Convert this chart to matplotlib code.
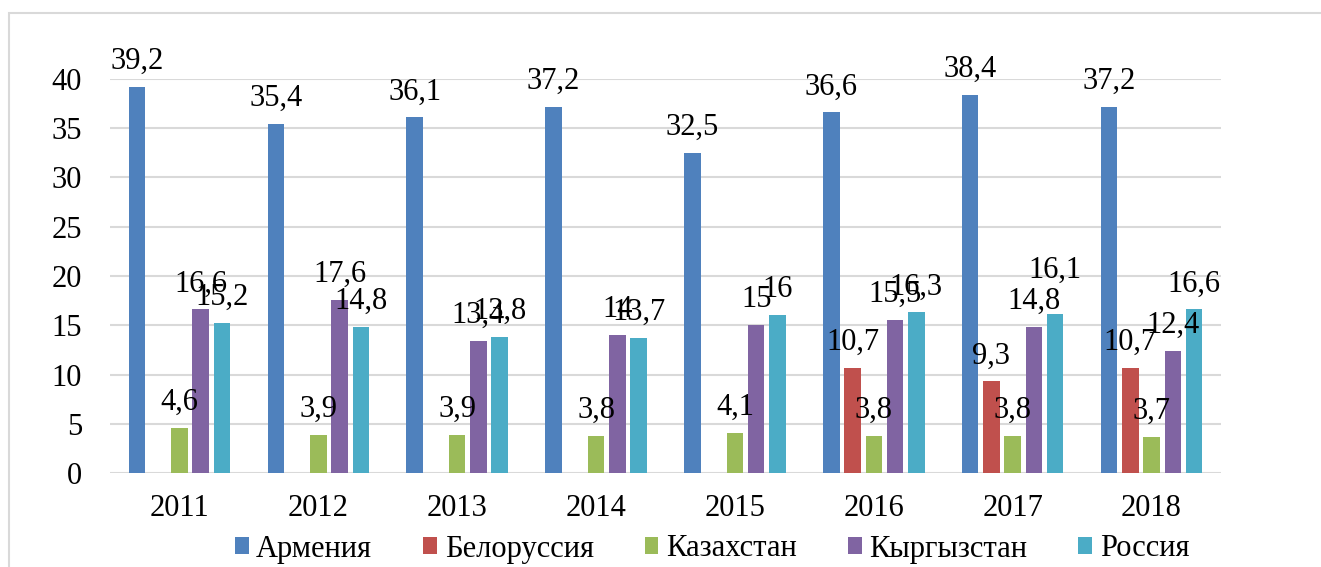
import numpy as np
import matplotlib.pyplot as plt
from matplotlib.patches import Rectangle

plt.rcParams['font.family'] = ['Liberation Serif', 'DejaVu Serif']

years = ['2011', '2012', '2013', '2014', '2015', '2016', '2017', '2018']
armenia = [39.2, 35.4, 36.1, 37.2, 32.5, 36.6, 38.4, 37.2]
belarus = [np.nan, np.nan, np.nan, np.nan, np.nan, 10.7, 9.3, 10.7]
kazakhstan = [4.6, 3.9, 3.9, 3.8, 4.1, 3.8, 3.8, 3.7]
kyrgyzstan = [16.6, 17.6, 13.4, 14, 15, 15.5, 14.8, 12.4]
russia = [15.2, 14.8, 13.8, 13.7, 16, 16.3, 16.1, 16.6]

names = ['Армения', 'Белоруссия', 'Казахстан', 'Кыргызстан', 'Россия']
series = [armenia, belarus, kazakhstan, kyrgyzstan, russia]
colors = ['#4F81BD', '#C0504D', '#9BBB59', '#8064A2', '#4BACC6']

fig = plt.figure(figsize=(13.21, 5.67), dpi=100)
fig.patches.append(Rectangle((9/1321, -0.1), 1.2, 1.1 - 13/567,
                             transform=fig.transFigure, fill=False,
                             edgecolor='#d9d9d9', linewidth=1.5))
ax = fig.add_axes([110/1321, 1 - 473/567, 1111/1321, 394/567])

x = np.arange(len(years))
step = 0.153
width = 0.119
# label nudged upward in the original (extra px)
extra = {(6, 4): 19}

for k, (vals, name, col) in enumerate(zip(series, names, colors)):
    pos = x + (k - 2) * step
    ax.bar(pos, vals, width, color=col, label=name, zorder=3)
    for i, v in enumerate(vals):
        if np.isnan(v):
            continue
        txt = '{:g}'.format(v).replace('.', ',')
        off = 18 + extra.get((i, k), 0)
        ax.annotate(txt, (pos[i], v), xytext=(0, off * 0.72),
                    textcoords='offset points', ha='center', va='baseline',
                    fontsize=22, zorder=4)

ax.set_xlim(-0.5, 7.5)
ax.set_ylim(0, 40)
ax.set_yticks(range(0, 41, 5))
ax.set_xticks(x)
ax.set_xticklabels(years)
ax.tick_params(length=0, labelsize=22)
ax.tick_params(axis='y', pad=20)
ax.tick_params(axis='x', pad=15)
ax.grid(axis='y', color='#d9d9d9', linewidth=1.5, zorder=0)
for s in ax.spines.values():
    s.set_visible(False)

fig.legend(loc='center', bbox_to_anchor=(712/1321, 1 - 549/567), ncol=5,
           frameon=False, fontsize=22, handlelength=0.45, handleheight=0.45,
           handletextpad=0.25, columnspacing=1.67)

fig.savefig('out.png', dpi=100)
